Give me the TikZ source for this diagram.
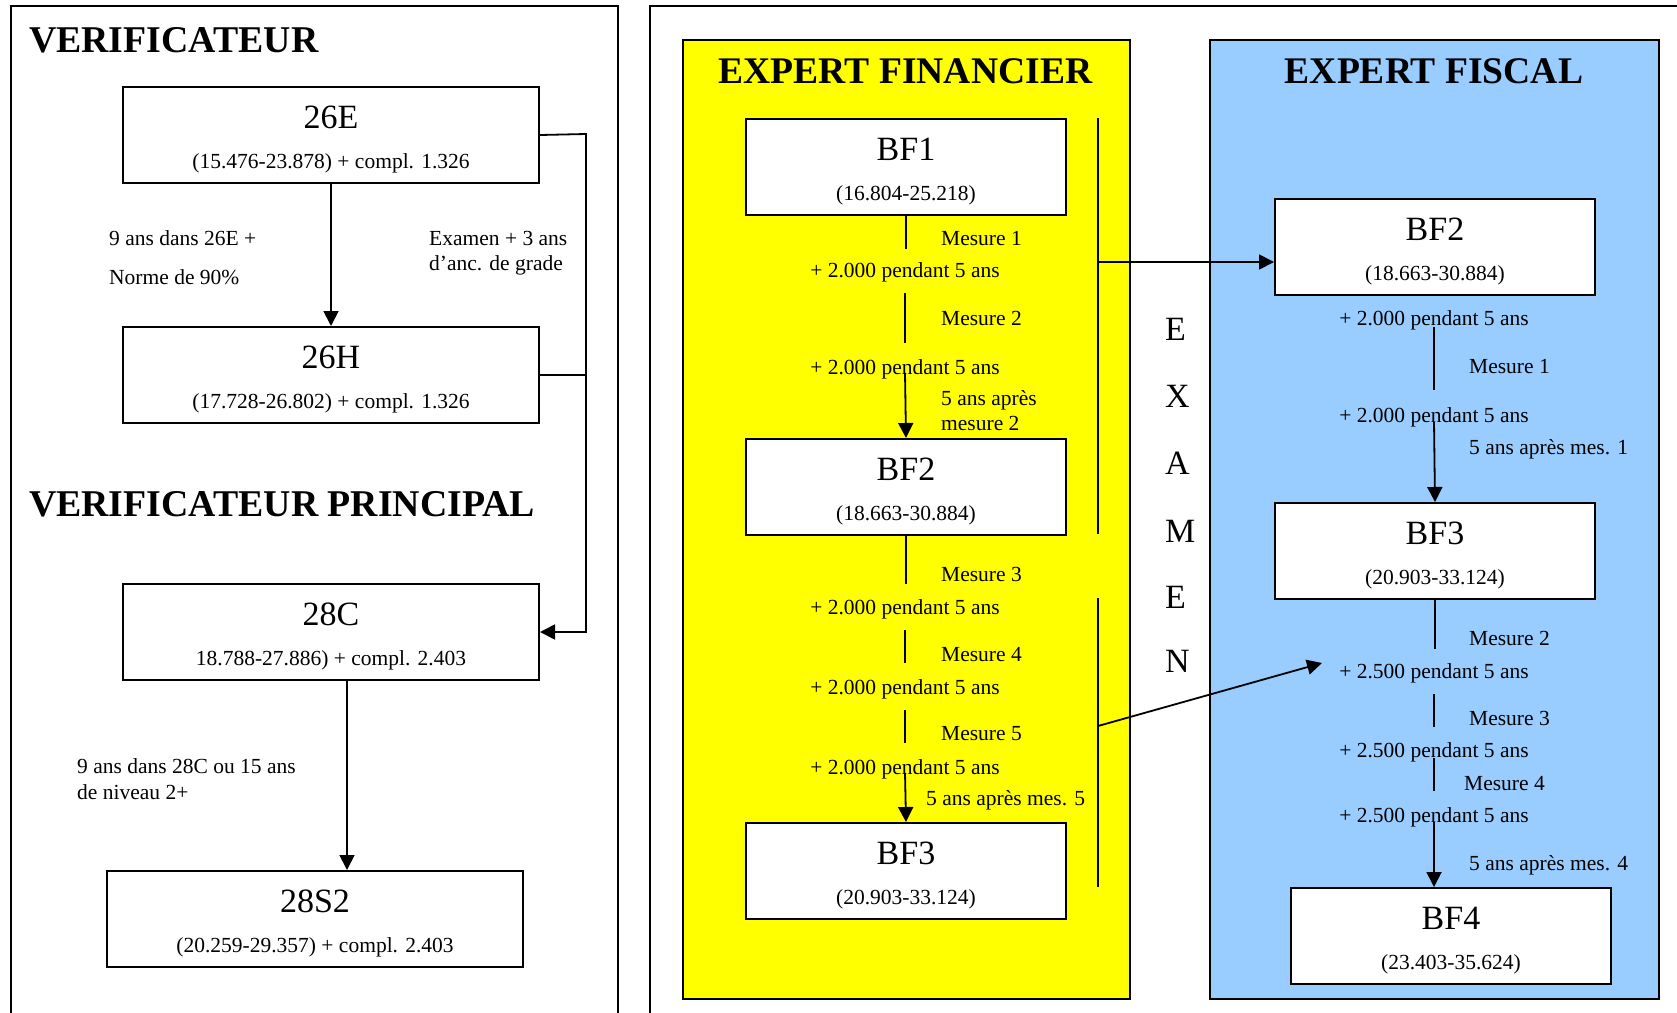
\documentclass[tikz,border=0pt]{standalone}
\usepackage{fontspec}
\setmainfont{Liberation Serif}
\usetikzlibrary{arrows.meta,calc}
\definecolor{yel}{RGB}{255,255,0}
\definecolor{sky}{RGB}{153,204,255}
\tikzset{
  box/.style={draw, line width=2pt, fill=white, inner sep=0pt, anchor=north west},
  lbox/.style={box, minimum width=416pt, minimum height=96pt},
  sbox/.style={box, minimum width=320pt, minimum height=96pt},
  panel/.style={draw, line width=2pt, inner sep=0pt, anchor=north west},
  ttl/.style={font=\fontsize{34}{40}\selectfont, anchor=base, inner sep=0pt},
  sub/.style={font=\fontsize{21.5}{25}\selectfont, anchor=base, inner sep=0pt},
  lbl/.style={font=\fontsize{21.5}{25}\selectfont, anchor=base west, inner sep=0pt},
  mid/.style={font=\fontsize{21.5}{25}\selectfont, anchor=base, inner sep=0pt},
  head/.style={font=\bfseries\fontsize{37.8}{44}\selectfont, anchor=base west, inner sep=0pt},
  headc/.style={font=\bfseries\fontsize{37.6}{44}\selectfont, anchor=base, inner sep=0pt},
  exl/.style={font=\fontsize{34}{40}\selectfont, anchor=base west, inner sep=0pt},
  conn/.style={line width=1.8pt},
  arr/.style={conn, -{Triangle[length=15pt,width=15pt]}},
}
\begin{document}
\begin{tikzpicture}[x=1pt,y=-1pt]
\useasboundingbox (0,0) rectangle (1677,1012);
\clip (0,0) rectangle (1677,1012);
\fill[white] (0,0) rectangle (1677,1012);

% outer frames
\draw[line width=2pt] (10.7,1030) -- (10.7,6.4) -- (618,6.4) -- (618,1030);
\draw[line width=2pt] (650,1030) -- (650,6.4) -- (1700,6.4);

% ---------- left part ----------
\node[head] (hv) at (29,52) {VERIFICATEUR};
\node[head] (hvp) at (29,516) {VERIFICATEUR PRINCIPAL};

\node[lbox] (e26) at (122,86) {};
\node[ttl] (e26t) at ($(e26.north)+(0,42.5)$) {26E};
\node[sub] (e26s) at ($(e26.north)+(0,82.5)$) {(15.476-23.878) + compl. 1.326};

\node[lbox] (h26) at (122,326) {};
\node[ttl] (h26t) at ($(h26.north)+(0,42.5)$) {26H};
\node[sub] (h26s) at ($(h26.north)+(0,82.5)$) {(17.728-26.802) + compl. 1.326};

\node[lbox] (c28) at (122,583) {};
\node[ttl] (c28t) at ($(c28.north)+(0,42.5)$) {28C};
\node[sub] (c28s) at ($(c28.north)+(0,82.5)$) {18.788-27.886) + compl. 2.403};

\node[lbox] (s28) at (106,870) {};
\node[ttl] (s28t) at ($(s28.north)+(0,42.5)$) {28S2};
\node[sub] (s28s) at ($(s28.north)+(0,82.5)$) {(20.259-29.357) + compl. 2.403};

\node[lbl] (l1a) at (109,245) {9 ans dans 26E +};
\node[lbl] (l1b) at (109,284) {Norme de 90\%};
\node[lbl] (l2a) at (429,245) {Examen + 3 ans};
\node[lbl] (l2b) at (429,270) {d’anc. de grade};
\node[lbl] (l3a) at (77,773) {9 ans dans 28C ou 15 ans};
\node[lbl] (l3b) at (77,799) {de niveau 2+};

\draw[arr] (e26) -- (h26);
\coordinate (rc) at (586,134);
\draw[arr] (e26.east) -- (rc) |- (c28.east);
\draw[conn] (h26.east) -- (h26.east -| rc);
\draw[arr] ([xshift=16pt]c28.south) -- ([xshift=32pt]s28.north);

% ---------- panels ----------
\node[panel, fill=yel, minimum width=447pt, minimum height=959.5pt] (fin) at (682,38.5) {};
\node[panel, fill=sky, minimum width=449pt, minimum height=959.5pt] (fis) at (1209,38.5) {};
\node[headc] (hfin) at (905.5,83) {EXPERT FINANCIER};
\node[headc] (hfis) at (1434,83) {EXPERT FISCAL};

% EXAMEN
\node[exl] (x1) at (1165,340) {E};
\node[exl] (x2) at (1165,407) {X};
\node[exl] (x3) at (1165,474) {A};
\node[exl] (x4) at (1165,542) {M};
\node[exl] (x5) at (1165,608) {E};
\node[exl] (x6) at (1165,672) {N};

% ---------- expert financier ----------
\node[sbox] (f1) at (745,118) {};
\node[ttl] (f1t) at ($(f1.north)+(0,42.5)$) {BF1};
\node[sub] (f1s) at ($(f1.north)+(0,82.5)$) {(16.804-25.218)};

\node[sbox] (f2) at (745,438) {};
\node[ttl] (f2t) at ($(f2.north)+(0,42.5)$) {BF2};
\node[sub] (f2s) at ($(f2.north)+(0,82.5)$) {(18.663-30.884)};

\node[sbox] (f3) at (745,822) {};
\node[ttl] (f3t) at ($(f3.north)+(0,42.5)$) {BF3};
\node[sub] (f3s) at ($(f3.north)+(0,82.5)$) {(20.903-33.124)};

\node[lbl] (fm1) at (941,245) {Mesure 1};
\node[mid] (fp1) at (905,277.5) {+ 2.000 pendant 5 ans};
\node[lbl] (fm2) at (941,325) {Mesure 2};
\node[mid] (fp2) at (905,374) {+ 2.000 pendant 5 ans};
\node[lbl] (fa1) at (941,405) {5 ans après};
\node[lbl] (fa2) at (941,430) {mesure 2};
\node[lbl] (fm3) at (941,581) {Mesure 3};
\node[mid] (fp3) at (905,614) {+ 2.000 pendant 5 ans};
\node[lbl] (fm4) at (941,661) {Mesure 4};
\node[mid] (fp4) at (905,694) {+ 2.000 pendant 5 ans};
\node[lbl] (fm5) at (941,740) {Mesure 5};
\node[mid] (fp5) at (905,774) {+ 2.000 pendant 5 ans};
\node[lbl] (fa3) at (926,805) {5 ans après mes. 5};

\draw[conn] (f1.south) -- ++(0,33);
\draw[conn] (905,293) -- (905,343);
\draw[arr] (905,373) -- (f2.north);
\draw[conn] (f2.south) -- ++(0,48);
\draw[conn] (905,630) -- (905,663);
\draw[conn] (905,710) -- (905,743);
\draw[arr] (905,773) -- (f3.north);

% examen lines
\draw[conn] (1098,118) -- (1098,534);
\draw[conn] (1098,598) -- (1098,887);

% ---------- expert fiscal ----------
\node[sbox] (b2) at (1274,198) {};
\node[ttl] (b2t) at ($(b2.north)+(0,42.5)$) {BF2};
\node[sub] (b2s) at ($(b2.north)+(0,82.5)$) {(18.663-30.884)};

\node[sbox] (b3) at (1274,502) {};
\node[ttl] (b3t) at ($(b3.north)+(0,42.5)$) {BF3};
\node[sub] (b3s) at ($(b3.north)+(0,82.5)$) {(20.903-33.124)};

\node[sbox] (b4) at (1290,887) {};
\node[ttl] (b4t) at ($(b4.north)+(0,42.5)$) {BF4};
\node[sub] (b4s) at ($(b4.north)+(0,82.5)$) {(23.403-35.624)};

\node[mid] (bp1) at (1434,325) {+ 2.000 pendant 5 ans};
\node[lbl] (bm1) at (1469,373) {Mesure 1};
\node[mid] (bp2) at (1434,422) {+ 2.000 pendant 5 ans};
\node[lbl] (ba1) at (1469,454) {5 ans après mes. 1};
\node[lbl] (bm2) at (1469,645) {Mesure 2};
\node[mid] (bp3) at (1434,678) {+ 2.500 pendant 5 ans};
\node[lbl] (bm3) at (1469,725) {Mesure 3};
\node[mid] (bp4) at (1434,757) {+ 2.500 pendant 5 ans};
\node[lbl] (bm4) at (1464,790) {Mesure 4};
\node[mid] (bp5) at (1434,822) {+ 2.500 pendant 5 ans};
\node[lbl] (ba2) at (1469,870) {5 ans après mes. 4};

\draw[conn] (1434,327) -- (1434,390);
\draw[arr] (1434,422) -- (b3.north);
\draw[conn] (b3.south) -- ++(0,49);
\draw[conn] (1434,694) -- (1434,727);
\draw[conn] (1434,758) -- (1434,791);
\draw[arr] (1434,822) -- (1434,887);

% examen arrows
\coordinate (ex1) at (1098,262);
\coordinate (ex2) at (1098,726);
\coordinate (ex2e) at (1322,663);
\draw[arr] (ex1) -- (ex1 -| b2.west);
\draw[arr] (ex2) -- (ex2e);
\end{tikzpicture}
\end{document}
